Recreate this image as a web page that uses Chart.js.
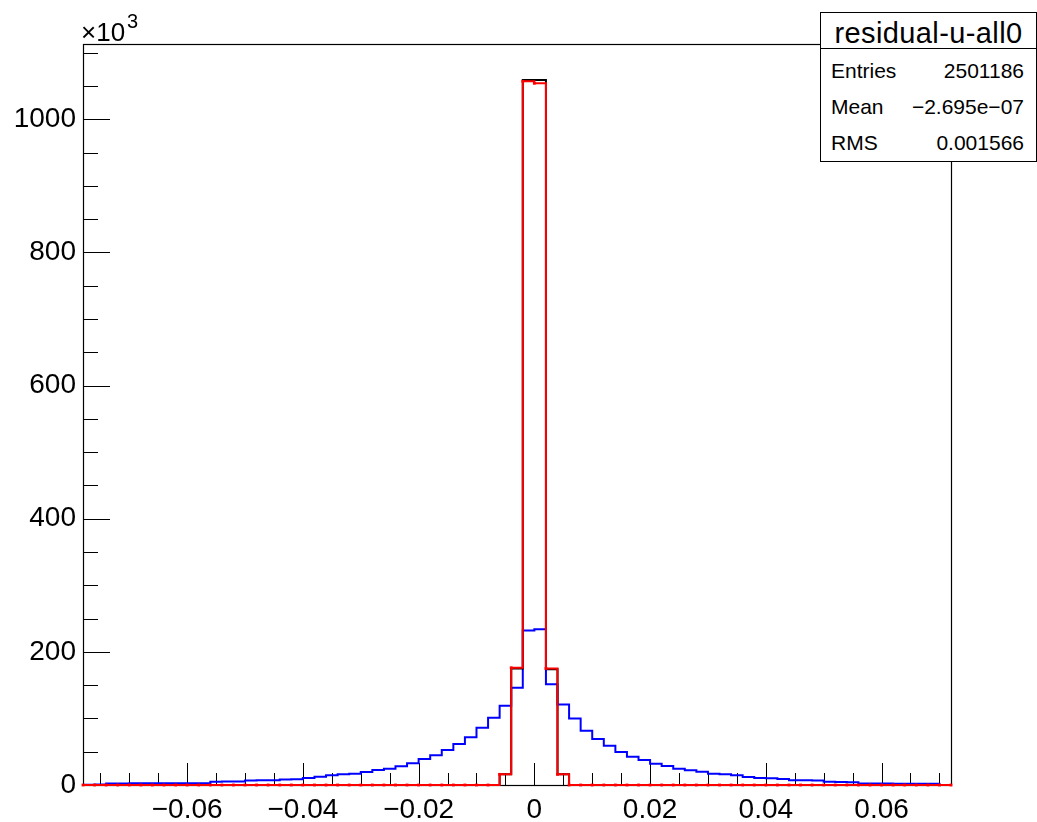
<!DOCTYPE html>
<html>
<head>
<meta charset="utf-8">
<script src="https://cdn.jsdelivr.net/npm/chart.js@4.4.1/dist/chart.umd.min.js"></script>
<style>
html,body{margin:0;padding:0;background:#fff;}
#wrap{position:relative;width:1037px;height:822px;overflow:hidden;font-family:"Liberation Sans",Arial,Helvetica,sans-serif;color:#000;}
#c{position:absolute;left:0;top:0;}
.abs{position:absolute;white-space:nowrap;}
#stats{position:absolute;left:820px;top:12px;width:217px;height:150px;box-sizing:border-box;border:1px solid #000;background:#fff;}
#stats .sep{position:absolute;left:0;right:0;top:35px;height:0;border-top:1px solid #000;}
</style>
</head>
<body>
<div id="wrap">
  <canvas id="c" width="1037" height="822"></canvas>
  <div class="abs" id="expo1" style="left:81px;top:19px;font-size:26px;line-height:26px;">×10</div>
  <div class="abs" id="expo2" style="left:127px;top:10px;font-size:20px;line-height:22px;">3</div>
  <div id="stats"><div class="sep"></div></div>
</div>
<script>
// ---- data ----
const binLow = -0.078;
const binWidth = 0.002;
const xAxisMin = -0.078;
const xAxisMax = 0.072;
const yAxisMax = 1113;

// counts (x10^3) per bin, 75 bins from -0.078 to 0.072
const blueCounts = [
  0.3, 0.6, 2.4, 2.4, 2.5, 2.5, 2.6, 2.6, 2.7, 2.7,
  2.8, 4.8, 5.1, 5.4, 6.6, 7.0, 7.3, 8.3, 8.8, 10.5,
  12.5, 14.5, 16.3, 17.0, 19.5, 22.5, 24.5, 28.0, 32.6, 39.0,
  44.6, 52.6, 61.6, 71.6, 86.0, 101.0, 119.0, 146.0, 232.0, 234.0,
  151.5, 121.0, 100.0, 81.6, 69.0, 59.0, 49.6, 42.5, 37.5, 32.0,
  28.5, 24.5, 22.0, 20.0, 16.8, 16.3, 14.8, 12.0, 10.7, 10.3,
  9.0, 7.3, 7.0, 6.7, 4.8, 4.5, 4.2, 2.3, 2.2, 2.1,
  2.0, 1.9, 1.8, 1.7, 0
];
const redCounts = [
  0, 0, 0, 0, 0, 0, 0, 0, 0, 0,
  0, 0, 0, 0, 0, 0, 0, 0, 0, 0,
  0, 0, 0, 0, 0, 0, 0, 0, 0, 0,
  0, 0, 0, 0, 0, 0, 16, 176, 1057, 1054,
  175, 16, 0, 0, 0, 0, 0, 0, 0, 0,
  0, 0, 0, 0, 0, 0, 0, 0, 0, 0,
  0, 0, 0, 0, 0, 0, 0, 0, 0, 0,
  0, 0, 0, 0, 0
];
const blackCounts = [
  0, 0, 0, 0, 0, 0, 0, 0, 0, 0,
  0, 0, 0, 0, 0, 0, 0, 0, 0, 0,
  0, 0, 0, 0, 0, 0, 0, 0, 0, 0,
  0, 0, 0, 0, 0, 0, 16, 175, 1059, 1059,
  174, 16, 0, 0, 0, 0, 0, 0, 0, 0,
  0, 0, 0, 0, 0, 0, 0, 0, 0, 0,
  0, 0, 0, 0, 0, 0, 0, 0, 0, 0,
  0, 0, 0, 0, 0
];

const xMajorTicks = [-0.06, -0.04, -0.02, 0, 0.02, 0.04, 0.06];
const xMinorTicks = [-0.075, -0.07, -0.065, -0.055, -0.05, -0.045, -0.035, -0.03, -0.025,
  -0.015, -0.01, -0.005, 0.005, 0.01, 0.015, 0.025, 0.03, 0.035, 0.045, 0.05, 0.055, 0.065, 0.07];
const yMajorTicks = [0, 200, 400, 600, 800, 1000];
const yMinorTicks = [50, 100, 150, 250, 300, 350, 450, 500, 550, 650, 700, 750, 850, 900, 950, 1050, 1100];

const statsTitle = 'residual-u-all0';
const statsNames = ['Entries', 'Mean', 'RMS'];
const statsValues = ['2501186', '\u22122.695e\u221207', '0.001566'];

// ---- stats box (HTML text) ----
(function(){
  const box = document.getElementById('stats');
  const t = document.createElement('div');
  t.className = 'abs';
  t.textContent = statsTitle;
  t.style.cssText = 'left:0;right:0;top:6px;text-align:center;font-size:29px;line-height:29px;letter-spacing:0.4px;';
  box.appendChild(t);
  const tops = [47, 83, 119];
  statsNames.forEach((n, i) => {
    const a = document.createElement('div');
    a.className = 'abs';
    a.textContent = n;
    a.style.cssText = 'left:10px;top:' + tops[i] + 'px;font-size:21px;line-height:21px;';
    box.appendChild(a);
    const b = document.createElement('div');
    b.className = 'abs';
    b.textContent = statsValues[i];
    b.style.cssText = 'right:12px;top:' + tops[i] + 'px;font-size:21px;line-height:21px;';
    box.appendChild(b);
  });
})();

// ---- helpers ----
function stepPoints(counts) {
  const pts = counts.map((v, i) => ({x: binLow + i * binWidth, y: v}));
  pts.push({x: binLow + counts.length * binWidth, y: counts[counts.length - 1]});
  return pts;
}
function fmt(v) {
  if (v === 0) return '0';
  const s = String(Math.abs(+v.toFixed(4)));
  return v < 0 ? '\u2212' + s : s;
}

const rootAxes = {
  id: 'rootAxes',
  beforeDatasetsDraw(chart) {
    const {ctx, chartArea: a, scales} = chart;
    const x = scales.x, y = scales.y;
    ctx.save();
    ctx.strokeStyle = '#000';
    ctx.lineWidth = 1;
    ctx.beginPath();
    xMajorTicks.forEach(v => { const p = Math.round(x.getPixelForValue(v)) + 0.5; ctx.moveTo(p, a.bottom); ctx.lineTo(p, a.bottom - 22); });
    xMinorTicks.forEach(v => { const p = Math.round(x.getPixelForValue(v)) + 0.5; ctx.moveTo(p, a.bottom); ctx.lineTo(p, a.bottom - 12); });
    yMajorTicks.forEach(v => { const p = Math.round(y.getPixelForValue(v)) + 0.5; ctx.moveTo(a.left, p); ctx.lineTo(a.left + 27, p); });
    yMinorTicks.forEach(v => { const p = Math.round(y.getPixelForValue(v)) + 0.5; ctx.moveTo(a.left, p); ctx.lineTo(a.left + 15, p); });
    ctx.stroke();
    ctx.lineWidth = 1.2;
    ctx.strokeRect(Math.round(a.left) + 0.5, Math.round(a.top) + 0.5, Math.round(a.right - a.left), Math.round(a.bottom - a.top));
    ctx.restore();
  }
};

const tickFont = {family: '"Liberation Sans", Arial, Helvetica, sans-serif', size: 28};

new Chart(document.getElementById('c'), {
  type: 'line',
  data: {
    datasets: [
      {
        label: 'red', data: stepPoints(redCounts), order: 0,
        borderColor: '#ff0000', borderWidth: 2, stepped: 'before', fill: false,
        pointRadius: 2, pointStyle: 'rect', pointBackgroundColor: '#ff0000', pointBorderWidth: 0,
        pointHoverRadius: 0, clip: false, tension: 0
      },
      {
        label: 'black', data: stepPoints(blackCounts), order: 1,
        borderColor: '#000000', borderWidth: 2, stepped: 'before', fill: false,
        pointRadius: 0, clip: false, tension: 0
      },
      {
        label: 'blue', data: stepPoints(blueCounts), order: 2,
        borderColor: '#0000ff', borderWidth: 2, stepped: 'before', fill: false,
        pointRadius: 0, clip: false, tension: 0
      }
    ]
  },
  options: {
    responsive: false,
    animation: false,
    devicePixelRatio: 1,
    layout: {padding: {top: 44, right: 86, left: 0, bottom: 0}},
    plugins: {legend: {display: false}, tooltip: {enabled: false}, title: {display: false}},
    scales: {
      x: {
        type: 'linear', min: xAxisMin, max: xAxisMax,
        grid: {display: false, drawTicks: false},
        border: {display: false},
        afterBuildTicks: s => { s.ticks = xMajorTicks.map(v => ({value: v})); },
        afterFit: s => { s.height = 37; },
        ticks: {font: tickFont, color: '#000', padding: 8, maxRotation: 0, autoSkip: false, callback: v => fmt(v)}
      },
      y: {
        type: 'linear', min: 0, max: yAxisMax,
        grid: {display: false, drawTicks: false},
        border: {display: false},
        afterBuildTicks: s => { s.ticks = yMajorTicks.map(v => ({value: v})); },
        afterFit: s => { s.width = 83; },
        ticks: {font: tickFont, color: '#000', padding: 7, autoSkip: false, callback: v => fmt(v)}
      }
    }
  },
  plugins: [rootAxes]
});
</script>
</body>
</html>
